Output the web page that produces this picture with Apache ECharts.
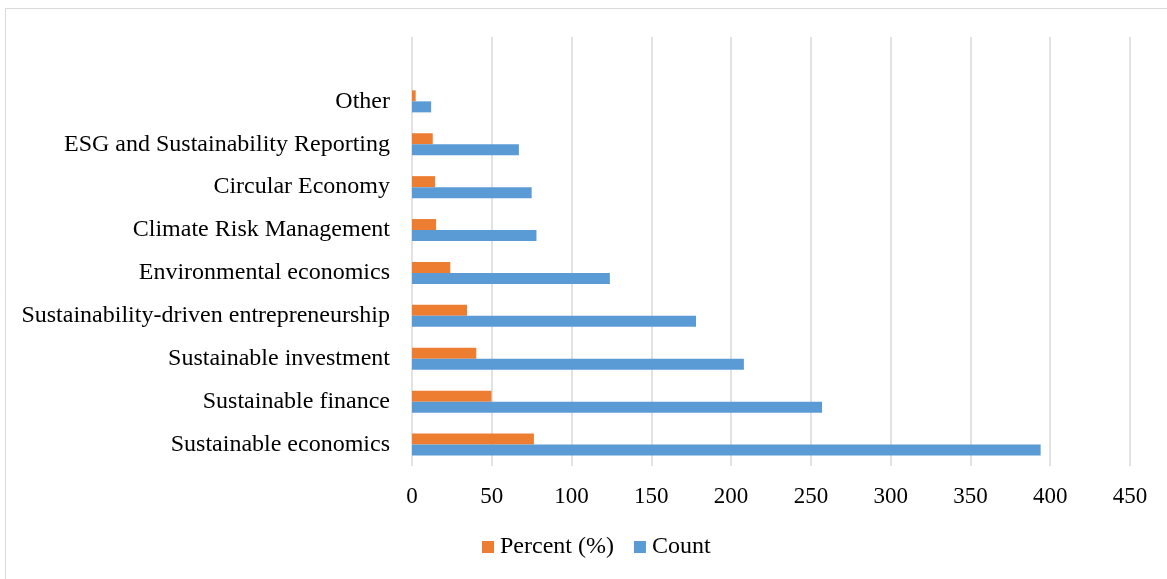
<!DOCTYPE html>
<html>
<head>
<meta charset="utf-8">
<script src="https://cdn.jsdelivr.net/npm/echarts@6/dist/echarts.min.js"></script>
<style>
html,body{margin:0;padding:0;background:#fff;}
#chart{width:1167px;height:579px;}
</style>
</head>
<body>
<div id="chart"></div>
<script>
// Bottom to top (empty top slot as in the original plot area)
var categories = ["Sustainable economics","Sustainable finance","Sustainable investment","Sustainability-driven entrepreneurship","Environmental economics","Climate Risk Management","Circular Economy","ESG and Sustainability Reporting","Other",""];
var countValues = [394, 257, 208, 178, 124, 78, 75, 67, 12, null];
var percentValues = [76.4, 49.8, 40.3, 34.5, 24.0, 15.1, 14.5, 13.0, 2.3, null];
var xTicks = {min: 0, max: 450, interval: 50};

var chart = echarts.init(document.getElementById('chart'));
var font = '"Liberation Serif", "Times New Roman", serif';
chart.setOption({
  animation: false,
  backgroundColor: '#fff',
  textStyle: {fontFamily: font},
  graphic: [{
    type: 'rect', shape: {x: 5.5, y: 8.5, width: 1170, height: 600},
    style: {fill: 'none', stroke: '#d9d9d9', lineWidth: 1}, silent: true
  }],
  grid: {left: 412, right: 37, top: 37, bottom: 113, containLabel: false},
  legend: {
    data: ['Percent (%)', 'Count'],
    bottom: 15, left: 477,
    itemWidth: 12, itemHeight: 12, itemGap: 20, itemStyle: {borderWidth: 0},
    icon: 'rect',
    textStyle: {fontFamily: font, fontSize: 24, color: '#000', padding: [0, 0, 0, 1]}
  },
  xAxis: {
    type: 'value', min: xTicks.min, max: xTicks.max, interval: xTicks.interval,
    axisLine: {show: false}, axisTick: {show: false},
    splitLine: {show: true, lineStyle: {color: '#d9d9d9', width: 1.5}},
    axisLabel: {fontFamily: font, fontSize: 23, color: '#000', margin: 19}
  },
  yAxis: {
    type: 'category', data: categories,
    axisLine: {show: false}, axisTick: {show: false},
    axisLabel: {fontFamily: font, fontSize: 24, color: '#000', margin: 22, padding: [6, 0, 0, 0]}
  },
  series: [
    {name: 'Percent (%)', type: 'bar', data: percentValues, barWidth: 11, barGap: '0%',
     itemStyle: {color: '#ED7D31'}},
    {name: 'Count', type: 'bar', data: countValues, barWidth: 11, barGap: '0%',
     itemStyle: {color: '#5B9BD5'}}
  ]
});
</script>
</body>
</html>
